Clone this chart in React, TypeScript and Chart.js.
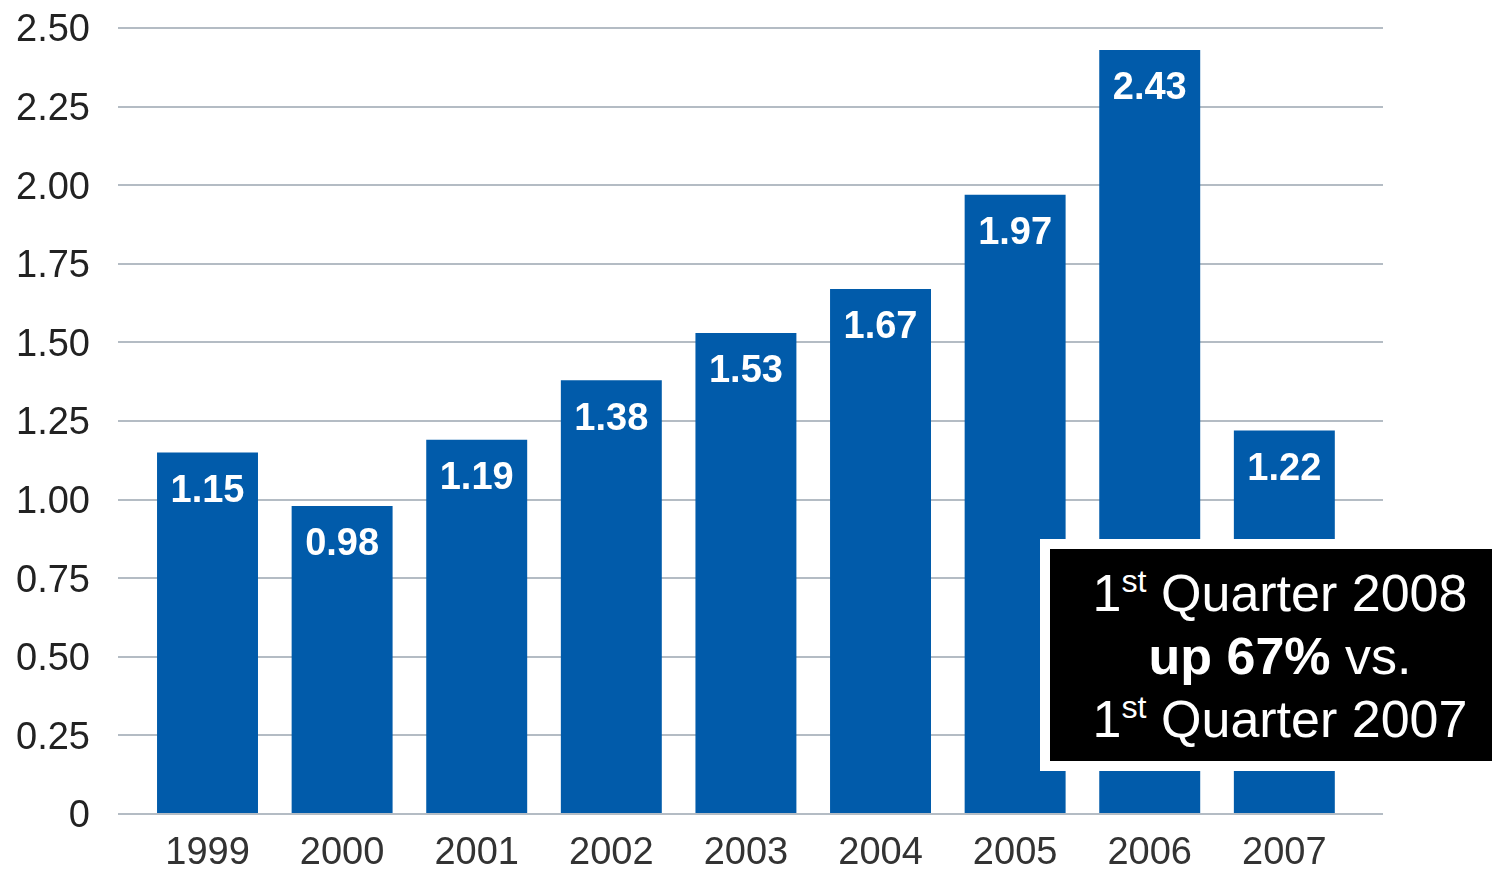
import React, { useEffect, useRef } from 'react';
import { Chart, registerables } from 'chart.js';

Chart.register(...registerables);

const years = ['1999', '2000', '2001', '2002', '2003', '2004', '2005', '2006', '2007'];
const values = [1.15, 0.98, 1.19, 1.38, 1.53, 1.67, 1.97, 2.43, 1.22];
const yTickValues = [0, 0.25, 0.5, 0.75, 1.0, 1.25, 1.5, 1.75, 2.0, 2.25, 2.5];

const FONT = '"Liberation Sans", Arial, Helvetica, sans-serif';
const BAR_COLOR = '#015BAA';

const barLabelPlugin = {
  id: 'barLabels',
  afterDatasetsDraw(chart: any) {
    const ctx = chart.ctx;
    const meta = chart.getDatasetMeta(0);
    ctx.save();
    ctx.fillStyle = '#ffffff';
    ctx.font = `bold 38px ${FONT}`;
    ctx.textAlign = 'center';
    ctx.textBaseline = 'middle';
    meta.data.forEach((bar: any, i: number) => {
      ctx.fillText(values[i].toFixed(2), bar.x, bar.y + 39);
    });
    ctx.restore();
  },
};

export default function App() {
  const canvasRef = useRef<HTMLCanvasElement | null>(null);

  useEffect(() => {
    const canvas = canvasRef.current;
    if (!canvas) return;
    const chart = new Chart(canvas, {
      type: 'bar',
      data: {
        datasets: [
          {
            data: values.map((v, i) => ({ x: i, y: v })),
            backgroundColor: BAR_COLOR,
            borderWidth: 0,
            barPercentage: 0.75,
            categoryPercentage: 1,
          },
        ],
      },
      options: {
        animation: false,
        responsive: false,
        maintainAspectRatio: false,
        layout: { padding: { top: 28, right: 109, left: 0, bottom: 0 } },
        plugins: {
          legend: { display: false },
          tooltip: { enabled: false },
        },
        scales: {
          x: {
            type: 'linear',
            offset: false,
            min: -0.665,
            max: 8.733,
            grid: { display: false, drawTicks: false, offset: false },
            border: { display: false },
            afterBuildTicks: (scale: any) => {
              scale.ticks = years.map((_, i) => ({ value: i }));
            },
            afterFit: (scale: any) => {
              scale.height = 55;
              scale.paddingLeft = 0;
              scale.paddingRight = 0;
            },
            ticks: {
              autoSkip: false,
              maxRotation: 0,
              padding: 17,
              color: '#333333',
              font: { family: FONT, size: 38 },
              callback: (v: any) => years[Math.round(Number(v))] ?? '',
            },
          },
          y: {
            min: 0,
            max: 2.5,
            grid: { color: '#b4bcc4', lineWidth: 2, drawTicks: false },
            border: { display: false },
            afterBuildTicks: (scale: any) => {
              scale.ticks = yTickValues.map((v) => ({ value: v }));
            },
            afterFit: (scale: any) => {
              scale.width = 118;
              scale.paddingTop = 0;
              scale.paddingBottom = 0;
            },
            ticks: {
              padding: 28,
              labelOffset: 3,
              color: '#222222',
              font: { family: FONT, size: 38 },
              callback: (v: any) => (Number(v) === 0 ? '0' : Number(v).toFixed(2)),
            },
          },
        },
      },
      plugins: [barLabelPlugin],
    } as any);
    return () => chart.destroy();
  }, []);

  const lineStyle: React.CSSProperties = { height: 63, lineHeight: '63px', whiteSpace: 'nowrap' };
  const supStyle: React.CSSProperties = { fontSize: '0.62em', verticalAlign: '0.6em', lineHeight: 0 };

  return (
    <div
      style={{
        position: 'fixed',
        left: 0,
        top: 0,
        width: 1492,
        height: 869,
        overflow: 'hidden',
        background: '#ffffff',
      }}
    >
      <canvas ref={canvasRef} width={1492} height={869} style={{ display: 'block' }} />
      <div
        style={{
          position: 'absolute',
          left: 1040,
          top: 539,
          width: 460,
          height: 199,
          paddingTop: 13,
          boxSizing: 'content-box',
          border: '10px solid #ffffff',
          background: '#000000',
          color: '#ffffff',
          fontFamily: FONT,
          fontSize: 52,
          textAlign: 'center',
          overflow: 'hidden',
        }}
      >
        <div style={lineStyle}>
          1<span style={supStyle}>st</span> Quarter 2008
        </div>
        <div style={lineStyle}>
          <b>up 67%</b> vs.
        </div>
        <div style={lineStyle}>
          1<span style={supStyle}>st</span> Quarter 2007
        </div>
      </div>
    </div>
  );
}
